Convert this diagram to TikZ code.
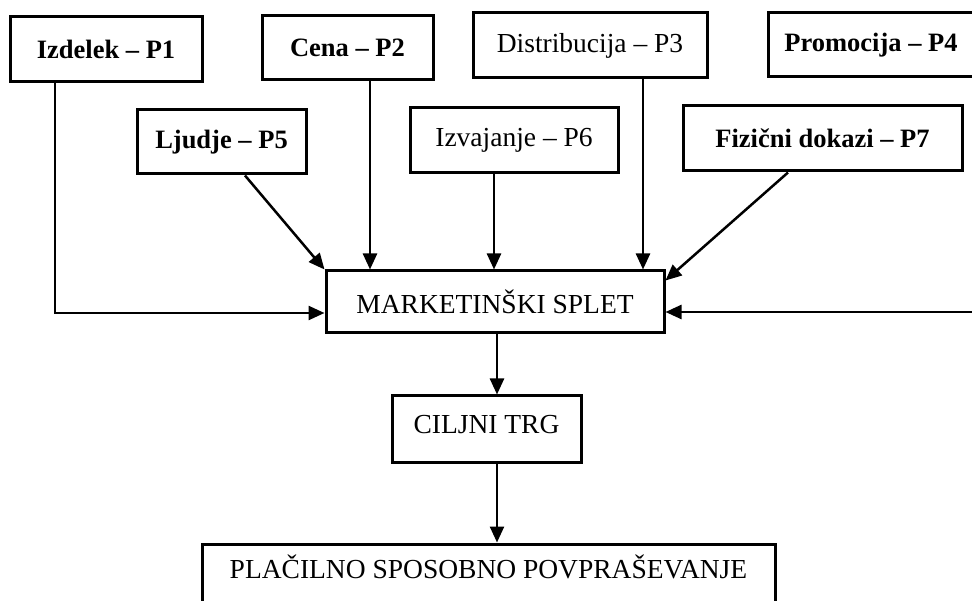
\documentclass[tikz,border=0pt]{standalone}
\usepackage{fontspec}
\setmainfont{Liberation Serif}
\usetikzlibrary{arrows.meta}
\begin{document}
\begin{tikzpicture}[x=1pt,y=-1pt,
  box/.style={draw,line width=3pt,rectangle,inner sep=0pt,font=\fontsize{27.5}{32}\selectfont},
  bbox/.style={box,font=\fontsize{26.5}{32}\selectfont\bfseries},
  arr/.style={line width=2.5pt,-{Triangle[length=16pt,width=14pt]}}]
\useasboundingbox (0,0) rectangle (972,601);
\node[bbox,minimum width=192pt,minimum height=65pt] (p1) at (106,49.5) {Izdelek -- P1};
\node[bbox,minimum width=171pt,minimum height=64pt] (p2) at (347.5,48) {Cena -- P2};
\node[box,minimum width=234pt,minimum height=65pt] (p3) at (590,45.5) {Distribucija -- P3};
\node[bbox,minimum width=206pt,minimum height=64pt] (p4) at (871,45) {Promocija -- P4};
\node[bbox,minimum width=169pt,minimum height=64pt] (p5) at (221.5,142) {Ljudje -- P5};
\node[box,minimum width=208pt,minimum height=65pt] (p6) at (514,140.5) {Izvajanje -- P6};
\node[bbox,minimum width=279pt,minimum height=65pt] (p7) at (822.5,138.5) {Fizični dokazi -- P7};
\node[box,minimum width=338pt,minimum height=62pt] (ms) at (495,302) {MARKETINŠKI SPLET};
\node[box,minimum width=189pt,minimum height=66pt,text height=19pt,text depth=10pt] (ct) at (486.5,429) {CILJNI TRG};
\node[box,minimum width=573pt,minimum height=64pt,text height=18pt,text depth=14pt] (ps) at (488.5,576) {PLAČILNO SPOSOBNO POVPRAŠEVANJE};
\coordinate (rin) at (980,312);
% connectors
\draw[arr] ([xshift=-51pt]p1.south) |- ([yshift=-11pt]ms.west);
\draw[arr] ([xshift=23.5pt]p5.south) -- (ms.north west);
\draw[arr] ([xshift=22.5pt]p2.south) -- ([xshift=22.5pt]p2.south |- ms.north);
\draw[arr] ([xshift=-20pt]p6.south) -- ([xshift=-20pt]p6.south |- ms.north);
\draw[arr] ([xshift=53pt]p3.south) -- ([xshift=53pt]p3.south |- ms.north);
\draw[arr] ([xshift=-34.5pt]p7.south) -- ([yshift=-11pt]ms.north east);
\draw[arr] (rin) -- (rin -| ms.east);
\draw[arr] ([xshift=2pt]ms.south) -- ([xshift=2pt]ms.south |- ct.north);
\draw[arr] ([xshift=10.5pt]ct.south) -- ([xshift=10.5pt]ct.south |- ps.north);
\end{tikzpicture}
\end{document}
